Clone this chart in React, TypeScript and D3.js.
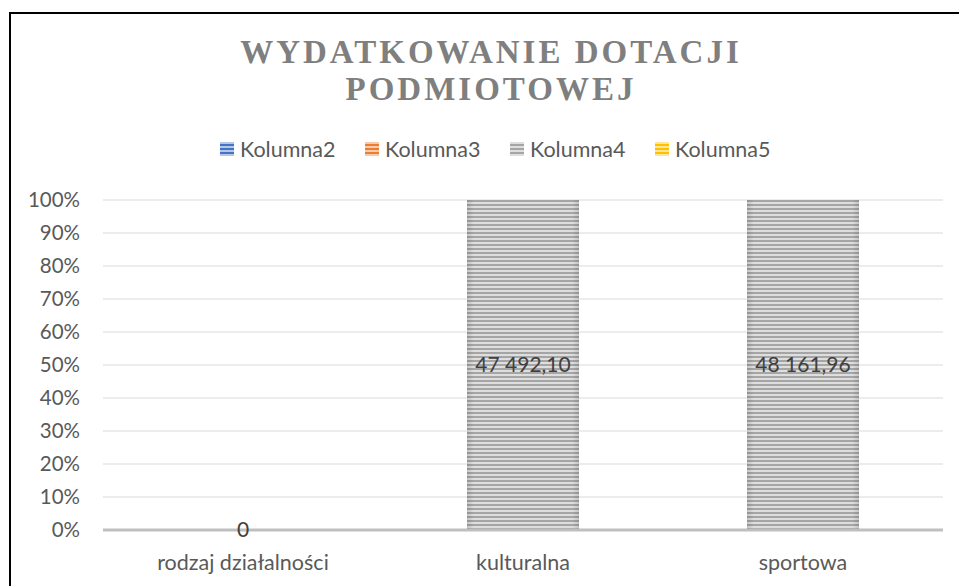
import React from "react";
import * as d3 from "d3";

const categories = ["rodzaj działalności", "kulturalna", "sportowa"];
const seriesNames = ["Kolumna2", "Kolumna3", "Kolumna4", "Kolumna5"];
const kolumna2 = [0, 0, 0];
const kolumna3 = [0, 0, 0];
const kolumna4 = [0, 47492.1, 48161.96];
const kolumna5 = [0, 0, 0];
const yTicks = [0, 0.1, 0.2, 0.3, 0.4, 0.5, 0.6, 0.7, 0.8, 0.9, 1];
const titleLines = ["WYDATKOWANIE DOTACJI", "PODMIOTOWEJ"];

const colors = ["#4472c4", "#ed7d31", "#a5a5a5", "#ffc000"];
const lightColors = ["#b4c7e7", "#f8cbad", "#dedede", "#ffe699"];

const W = 959;
const H = 586;
const plot = { left: 103, right: 943, top: 200, bottom: 530 };

const pl = d3.formatLocale({ decimal: ",", thousands: "\u00a0", grouping: [3], currency: ["", ""] });
const fmt = (v: number) => (v === 0 ? "0" : pl.format(",.2f")(v));

export default function App() {
  const rows = categories.map((c, i) => ({
    cat: c,
    Kolumna2: kolumna2[i],
    Kolumna3: kolumna3[i],
    Kolumna4: kolumna4[i],
    Kolumna5: kolumna5[i],
  }));
  const stack = d3.stack<any>().keys(seriesNames).offset(d3.stackOffsetExpand);
  const series = stack(rows);

  const x = d3.scaleBand().domain(categories).range([plot.left, plot.right]).paddingInner(0.6).paddingOuter(0.3);
  const band = d3.scaleBand().domain(categories).range([plot.left, plot.right]);
  const y = d3.scaleLinear().domain([0, 1]).range([plot.bottom, plot.top]);
  const pct = d3.format(".0%");

  const font = "Lato, 'Open Sans', sans-serif";

  return (
    <svg width={W} height={H} style={{ position: "fixed", left: 0, top: 0, background: "#fff" }}>
      <defs>
        {colors.map((c, i) => (
          <pattern key={i} id={`stripe${i}`} width={4} height={4} patternUnits="userSpaceOnUse">
            <rect width={4} height={4} fill={lightColors[i]} />
            <rect width={4} height={2} fill={c} />
          </pattern>
        ))}
        <linearGradient id="edge" x1="0" x2="1" y1="0" y2="0">
          <stop offset="0" stopColor="#000" stopOpacity={0.12} />
          <stop offset="0.06" stopColor="#000" stopOpacity={0} />
          <stop offset="0.94" stopColor="#000" stopOpacity={0} />
          <stop offset="1" stopColor="#000" stopOpacity={0.12} />
        </linearGradient>
      </defs>
      <rect x={0} y={0} width={W} height={H} fill="#fff" />
      <rect x={10} y={13} width={W + 20} height={H + 20} fill="none" stroke="#000" strokeWidth={2} />

      {titleLines.map((t, i) => (
        <text
          key={i}
          x={491}
          y={63 + i * 37}
          textAnchor="middle"
          fontFamily="'Liberation Serif', 'Times New Roman', serif"
          fontWeight="bold"
          fontSize={33}
          fill="#7f7f7f"
          letterSpacing={3}
        >
          {t}
        </text>
      ))}

      {seriesNames.map((s, i) => {
        const lx = 220 + i * 145;
        return (
          <g key={s}>
            <rect x={lx} y={142} width={14} height={14} fill={`url(#stripe${i})`} />
            <text x={lx + 20} y={149} dy="0.35em" fontFamily={font} fontSize={21.5} fill="#595959">
              {s}
            </text>
          </g>
        );
      })}

      {yTicks.map((t) => (
        <g key={t}>
          {t > 0 && (
            <line x1={plot.left} x2={plot.right} y1={y(t)} y2={y(t)} stroke="#d9d9d9" strokeWidth={1} />
          )}
          <text x={80} y={y(t)} dy="0.35em" textAnchor="end" fontFamily={font} fontSize={20.5} fill="#595959">
            {pct(t)}
          </text>
        </g>
      ))}

      {series.map((s, si) => (
        <g key={s.key}>
          {s.map((d, i) => {
            const h = y(d[0]) - y(d[1]);
            if (!(h > 0)) return null;
            const bx = x(categories[i])!;
            return (
              <g key={i}>
                <rect x={bx} y={y(d[1])} width={x.bandwidth()} height={h} fill={`url(#stripe${si})`} />
                <rect x={bx} y={y(d[1])} width={x.bandwidth()} height={h} fill="url(#edge)" />
              </g>
            );
          })}
        </g>
      ))}

      <line x1={plot.left} x2={plot.right} y1={plot.bottom} y2={plot.bottom} stroke="#bfbfbf" strokeWidth={3} />

      {series
        .filter((s) => s.key === "Kolumna4")
        .map((s) =>
          s.map((d, i) => {
            const v = kolumna4[i];
            const cx = band(categories[i])! + band.bandwidth() / 2;
            const cy = (y(d[0]) + y(d[1])) / 2;
            return (
              <text key={i} x={cx} y={cy} dy="0.35em" textAnchor="middle" fontFamily={font} fontSize={21} fill="#404040">
                {fmt(v)}
              </text>
            );
          })
        )}

      {categories.map((c) => (
        <text
          key={c}
          x={band(c)! + band.bandwidth() / 2}
          y={562}
          dy="0.35em"
          textAnchor="middle"
          fontFamily={font}
          fontSize={21.5}
          fill="#595959"
        >
          {c}
        </text>
      ))}
    </svg>
  );
}
